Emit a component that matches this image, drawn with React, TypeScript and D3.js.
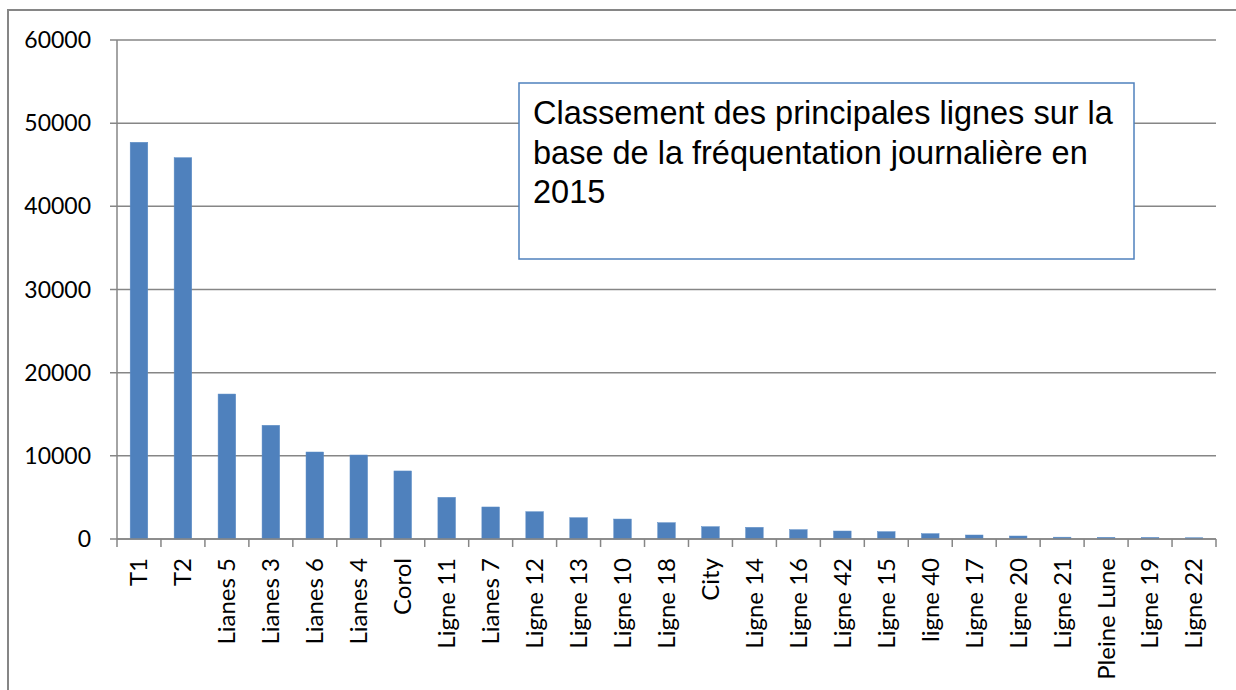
import React from 'react';
import * as d3 from 'd3';

const lignes = [
  'T1', 'T2', 'Lianes 5', 'Lianes 3', 'Lianes 6', 'Lianes 4', 'Corol', 'Ligne 11', 'Lianes 7',
  'Ligne 12', 'Ligne 13', 'Ligne 10', 'Ligne 18', 'City', 'Ligne 14', 'Ligne 16', 'Ligne 42',
  'Ligne 15', 'ligne 40', 'Ligne 17', 'Ligne 20', 'Ligne 21', 'Pleine Lune', 'Ligne 19', 'Ligne 22',
];
const frequentation = [
  47700, 45850, 17430, 13670, 10460, 10100, 8180, 5010, 3850,
  3280, 2560, 2400, 1960, 1480, 1400, 1120, 960,
  880, 640, 480, 360, 220, 200, 190, 150,
];
const yTicks = [0, 10000, 20000, 30000, 40000, 50000, 60000];
const titleLines = [
  'Classement des principales lignes sur la',
  'base de la fréquentation journalière en',
  '2015',
];

const W = 1236;
const H = 690;
const plot = { left: 117, right: 1216, top: 40, bottom: 539 };
const grey = '#868686';
const labelFont = 'Lato, "Open Sans", sans-serif';

export default function App() {
  const x = d3.scaleBand<string>()
    .domain(lignes)
    .range([plot.left, plot.right])
    .paddingInner(0.6)
    .paddingOuter(0.3);
  const y = d3.scaleLinear().domain([0, 60000]).range([plot.bottom, plot.top]);
  const step = x.step();

  return (
    <svg width={W} height={H} style={{ position: 'absolute', left: 0, top: 0, display: 'block' }}>
      <rect x={0} y={0} width={W} height={H} fill="#fff" />
      {/* outer chart frame */}
      <rect x={8} y={10} width={W + 20} height={H + 20} fill="none" stroke={grey} strokeWidth={2} />

      {/* gridlines + y ticks */}
      {yTicks.map(t => (
        <g key={t}>
          <line x1={plot.left - 7} x2={plot.right} y1={y(t)} y2={y(t)} stroke={grey} strokeWidth={1.5} />
          <text x={91} y={y(t)} dy="0.35em" textAnchor="end" fontFamily={labelFont} fontSize={23} fill="#000">
            {t}
          </text>
        </g>
      ))}

      {/* y axis */}
      <line x1={plot.left} x2={plot.left} y1={plot.top} y2={plot.bottom} stroke={grey} strokeWidth={1.5} />

      {/* bars */}
      {lignes.map((l, i) => (
        <rect
          key={l}
          x={x(l)}
          y={y(frequentation[i])}
          width={x.bandwidth()}
          height={plot.bottom - y(frequentation[i])}
          fill="#4F81BD"
          stroke="#5b8cc6"
          strokeWidth={0.5}
        />
      ))}

      {/* x axis and ticks */}
      <line x1={plot.left} x2={plot.right} y1={plot.bottom} y2={plot.bottom} stroke={grey} strokeWidth={1.5} />
      {d3.range(lignes.length + 1).map(i => (
        <line
          key={i}
          x1={plot.left + i * step}
          x2={plot.left + i * step}
          y1={plot.bottom}
          y2={plot.bottom + 8}
          stroke={grey}
          strokeWidth={1.5}
        />
      ))}

      {/* x labels */}
      {lignes.map(l => {
        const cx = (x(l) ?? 0) + x.bandwidth() / 2;
        return (
          <text
            key={l}
            transform={`translate(${cx},558) rotate(-90)`}
            dy="0.35em"
            textAnchor="end"
            fontFamily={labelFont}
            fontSize={24}
            fill="#000"
          >
            {l}
          </text>
        );
      })}

      {/* title box */}
      <rect x={519} y={83} width={615} height={176} fill="#fff" stroke="#4F81BD" strokeWidth={1.5} />
      {titleLines.map((t, i) => (
        <text
          key={i}
          x={533}
          y={124 + i * 39.5}
          fontFamily='"Liberation Sans", Arial, sans-serif'
          fontSize={32.5}
          fill="#000"
        >
          {t}
        </text>
      ))}
    </svg>
  );
}
